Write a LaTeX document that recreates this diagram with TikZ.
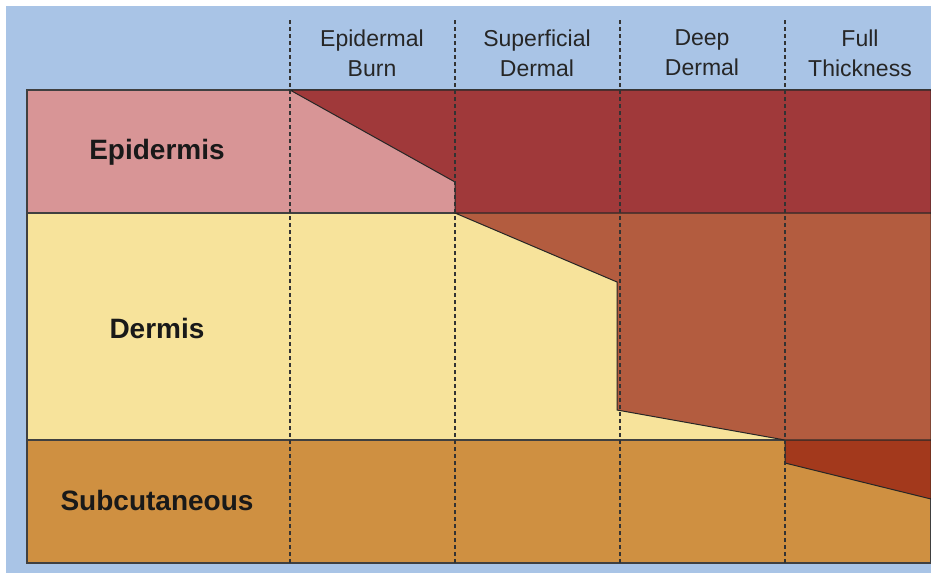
\documentclass[tikz,border=0pt]{standalone}
\usepackage{fontspec}
\setmainfont{Liberation Sans}
\usetikzlibrary{positioning}
\definecolor{Sky}{HTML}{A9C4E6}
\definecolor{Rose}{HTML}{D89596}
\definecolor{Cream}{HTML}{F7E39B}
\definecolor{Ochre}{HTML}{CF9041}
\definecolor{Wine}{HTML}{A0393A}
\definecolor{Rust}{HTML}{B35C3F}
\definecolor{Brick}{HTML}{A3391C}

\begin{document}
\begin{tikzpicture}[x=1pt,y=-1pt,
    layer/.style={draw=black!75,line width=1.2pt},
    burn/.style={draw=black!85,line width=1pt},
    guide/.style={draw=black!80,line width=1.1pt,dash pattern=on 4pt off 3pt},
    head/.style={align=center,font=\fontsize{23}{30}\selectfont,text=black!85},
    tissue/.style={font=\fontsize{28}{32}\selectfont\bfseries,text=black!90}]
  \useasboundingbox (0,0) rectangle (931,574);
  \fill[white] (0,0) rectangle (931,574);
  \fill[Sky] (6,6) rectangle (931,573);
  % skin layers
  \draw[layer,fill=Rose] (27,90) rectangle (931,213);
  \draw[layer,fill=Cream] (27,213) rectangle (931,440);
  \draw[layer,fill=Ochre] (27,440) rectangle (931,563);
  % burn depth
  \draw[burn,fill=Wine] (290,90) -- (455,182) -- (455,213) -- (931,213) -- (931,90) -- cycle;
  \draw[burn,fill=Rust] (455,213) -- (617,282) -- (617,410) -- (785,440) -- (931,440) -- (931,213) -- cycle;
  \draw[burn,fill=Brick] (785,440) -- (785,463) -- (931,499) -- (931,440) -- cycle;
  \foreach \x in {290,455,620,785}\draw[guide] (\x,20) -- (\x,563);
  % labels
  \node[tissue] (epi) at (157,152) {Epidermis};
  \node[tissue] (derm) at (157,328) {Dermis};
  \node[tissue] (sub) at (157,500) {Subcutaneous};
  \node[head] (first) at (372,53) {Epidermal\\Burn};
  \node[head] (second) at (537,53) {Superficial\\Dermal};
  \node[head] (third) at (702,53) {Deep\\Dermal};
  \node[head] (fourth) at (860,53) {Full\\Thickness};
\end{tikzpicture}
\end{document}
